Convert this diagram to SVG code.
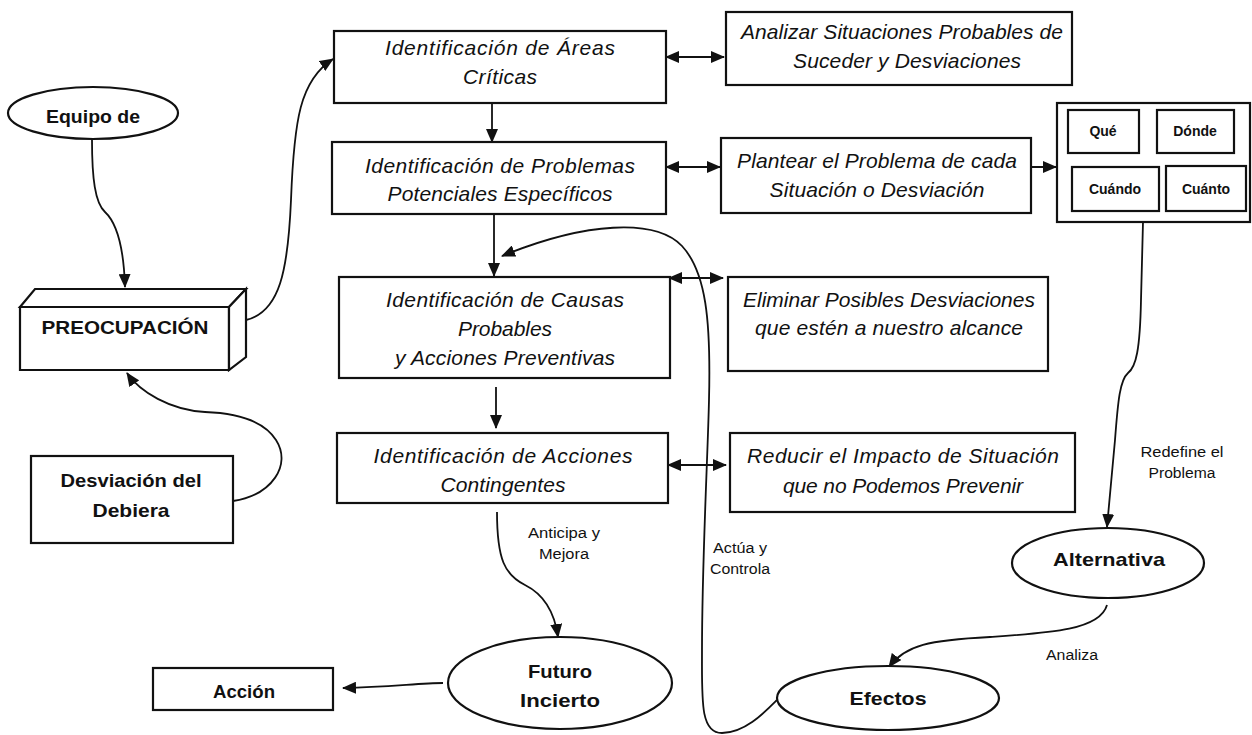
<svg xmlns="http://www.w3.org/2000/svg" width="1252" height="735" viewBox="0 0 1252 735">
<style>
.box{fill:#fff;stroke:#111;stroke-width:2.2}
.ln{fill:none;stroke:#111;stroke-width:1.8}
.it{font-family:"Liberation Sans","DejaVu Sans",sans-serif;font-style:italic;font-size:21px;fill:#111;text-anchor:middle}
.bd{font-family:"Liberation Sans","DejaVu Sans",sans-serif;font-weight:bold;font-size:19px;fill:#111;text-anchor:middle}
.gb{font-family:"Liberation Sans","DejaVu Sans",sans-serif;font-weight:bold;font-size:14px;fill:#111;text-anchor:middle}
.sm{font-family:"Liberation Sans","DejaVu Sans",sans-serif;font-size:14px;fill:#111;text-anchor:middle}
</style>
<defs>
<marker id="ah" markerUnits="userSpaceOnUse" markerWidth="14" markerHeight="12" refX="13" refY="6" orient="auto-start-reverse">
<path d="M0,0 L14,6 L0,12 z" fill="#111"/>
</marker>
</defs>
<rect width="1252" height="735" fill="#fff"/>

<g id="connectors">
<path class="ln" d="M92,140 C92,178 95,203 105,212 C119,225 124,255 125,287" marker-end="url(#ah)"/>
<path class="ln" d="M246,320 C280,312 288,270 291,200 C294,120 300,80 333,59" marker-end="url(#ah)"/>
<path class="ln" d="M233,501 C272,495 292,465 276,440 C262,418 232,413 205,412 C170,410 140,392 127,373" marker-end="url(#ah)"/>
<path class="ln" d="M492,87 L492,142" marker-end="url(#ah)"/>
<path class="ln" d="M494,214 L494,276" marker-end="url(#ah)"/>
<path class="ln" d="M496,387 L496,428" marker-end="url(#ah)"/>
<path class="ln" d="M666,57 L724,57" marker-start="url(#ah)" marker-end="url(#ah)"/>
<path class="ln" d="M666,167 L720,167" marker-start="url(#ah)" marker-end="url(#ah)"/>
<path class="ln" d="M1022,167 L1056,167" marker-end="url(#ah)"/>
<path class="ln" d="M669,278 L723,278" marker-start="url(#ah)" marker-end="url(#ah)"/>
<path class="ln" d="M668,465 L726,465" marker-start="url(#ah)" marker-end="url(#ah)"/>
<path class="ln" d="M777,700 C765,712 745,733 722,733 C700,733 702,700 702,650 C702,560 708,450 709,400 C711,320 706,272 682,246 C655,218 585,222 502,256" marker-end="url(#ah)"/>
<path class="ln" d="M1143,222 L1141,300 C1140,350 1136,367 1128,373 C1120,380 1118,400 1115,440 L1107,527" marker-end="url(#ah)"/>
<path class="ln" d="M1107,605 C1100,630 1050,633 990,637 C930,640 905,645 889,667" marker-end="url(#ah)"/>
<path class="ln" d="M497,512 C497,560 505,575 525,585 C545,595 555,615 558,637" marker-end="url(#ah)"/>
<path class="ln" d="M443,683 C420,683 390,687 343,688" marker-end="url(#ah)"/>
</g>

<g id="equipo">
<ellipse class="box" cx="93" cy="113" rx="85" ry="26"/>
<text class="bd" x="93" y="123" textLength="94" lengthAdjust="spacingAndGlyphs">Equipo de</text>
</g>

<g id="preocupacion">
<path class="box" d="M20,307 L229,307 L229,370 L20,370 Z"/>
<path class="box" d="M20,307 L35,289 L246,289 L229,307 Z"/>
<path class="box" d="M229,307 L246,289 L246,357 L229,370 Z"/>
<text class="bd" x="125" y="334" textLength="167" lengthAdjust="spacingAndGlyphs">PREOCUPACIÓN</text>
</g>

<g id="desviacion">
<rect class="box" x="31" y="456" width="202" height="87"/>
<text class="bd" x="131" y="487" textLength="141" lengthAdjust="spacingAndGlyphs">Desviación del</text>
<text class="bd" x="131" y="517" textLength="77" lengthAdjust="spacingAndGlyphs">Debiera</text>
</g>

<g id="areas">
<rect class="box" x="334" y="31" width="332" height="72"/>
<text class="it" x="500" y="55" textLength="230">Identificación de Áreas</text>
<text class="it" x="500" y="84" textLength="74">Críticas</text>
</g>

<g id="problemas">
<rect class="box" x="332" y="142" width="334" height="72"/>
<text class="it" x="500" y="173" textLength="270">Identificación de Problemas</text>
<text class="it" x="500" y="201" textLength="225">Potenciales Específicos</text>
</g>

<g id="causas">
<rect class="box" x="339" y="277" width="331" height="101"/>
<text class="it" x="505" y="307" textLength="238">Identificación de Causas</text>
<text class="it" x="505" y="336" textLength="94">Probables</text>
<text class="it" x="505" y="365" textLength="220">y Acciones Preventivas</text>
</g>

<g id="acciones">
<rect class="box" x="337" y="433" width="331" height="70"/>
<text class="it" x="503" y="463" textLength="259">Identificación de Acciones</text>
<text class="it" x="503" y="492" textLength="125">Contingentes</text>
</g>

<g id="analizar">
<rect class="box" x="726" y="12" width="346" height="73"/>
<text class="it" x="902" y="39" textLength="322">Analizar Situaciones Probables de</text>
<text class="it" x="907" y="68" textLength="228">Suceder y Desviaciones</text>
</g>

<g id="plantear">
<rect class="box" x="721" y="138" width="310" height="75"/>
<text class="it" x="877" y="168" textLength="280">Plantear el Problema de cada</text>
<text class="it" x="877" y="197" textLength="215">Situación o Desviación</text>
</g>

<g id="grid">
<rect class="box" x="1057" y="103" width="193" height="119" stroke-width="3"/>
<rect class="box" x="1068" y="110" width="71" height="43"/>
<text class="gb" x="1103" y="136">Qué</text>
<rect class="box" x="1157" y="110" width="77" height="43"/>
<text class="gb" x="1195" y="136">Dónde</text>
<rect class="box" x="1072" y="167" width="87" height="44"/>
<text class="gb" x="1115" y="194">Cuándo</text>
<rect class="box" x="1166" y="166" width="80" height="45"/>
<text class="gb" x="1206" y="194">Cuánto</text>
</g>

<g id="eliminar">
<rect class="box" x="728" y="277" width="320" height="94"/>
<text class="it" x="889" y="307" textLength="292">Eliminar Posibles Desviaciones</text>
<text class="it" x="889" y="335" textLength="268">que estén a nuestro alcance</text>
</g>

<g id="reducir">
<rect class="box" x="730" y="433" width="345" height="79"/>
<text class="it" x="903" y="463" textLength="312">Reducir el Impacto de Situación</text>
<text class="it" x="903" y="493" textLength="240">que no Podemos Prevenir</text>
</g>

<g id="alternativa">
<ellipse class="box" cx="1108" cy="563" rx="96" ry="35"/>
<text class="bd" x="1109" y="566" textLength="112" lengthAdjust="spacingAndGlyphs">Alternativa</text>
</g>

<g id="efectos">
<ellipse class="box" cx="888" cy="698" rx="111" ry="32"/>
<text class="bd" x="888" y="705" textLength="77" lengthAdjust="spacingAndGlyphs">Efectos</text>
</g>

<g id="futuro">
<ellipse class="box" cx="560" cy="683" rx="112" ry="46"/>
<text class="bd" x="560" y="678" textLength="64" lengthAdjust="spacingAndGlyphs">Futuro</text>
<text class="bd" x="560" y="707" textLength="80" lengthAdjust="spacingAndGlyphs">Incierto</text>
</g>

<g id="accion">
<rect class="box" x="153" y="668" width="180" height="42"/>
<text class="bd" x="244" y="698" textLength="62" lengthAdjust="spacingAndGlyphs">Acción</text>
</g>

<g id="labels">
<text class="sm" x="564" y="538" textLength="72" lengthAdjust="spacingAndGlyphs">Anticipa y</text>
<text class="sm" x="564" y="559" textLength="50" lengthAdjust="spacingAndGlyphs">Mejora</text>
<text class="sm" x="740" y="553" textLength="54" lengthAdjust="spacingAndGlyphs">Actúa y</text>
<text class="sm" x="740" y="574" textLength="60" lengthAdjust="spacingAndGlyphs">Controla</text>
<text class="sm" x="1182" y="457" textLength="83" lengthAdjust="spacingAndGlyphs">Redefine el</text>
<text class="sm" x="1182" y="478" textLength="67" lengthAdjust="spacingAndGlyphs">Problema</text>
<text class="sm" x="1072" y="660" textLength="52" lengthAdjust="spacingAndGlyphs">Analiza</text>
</g>
</svg>
